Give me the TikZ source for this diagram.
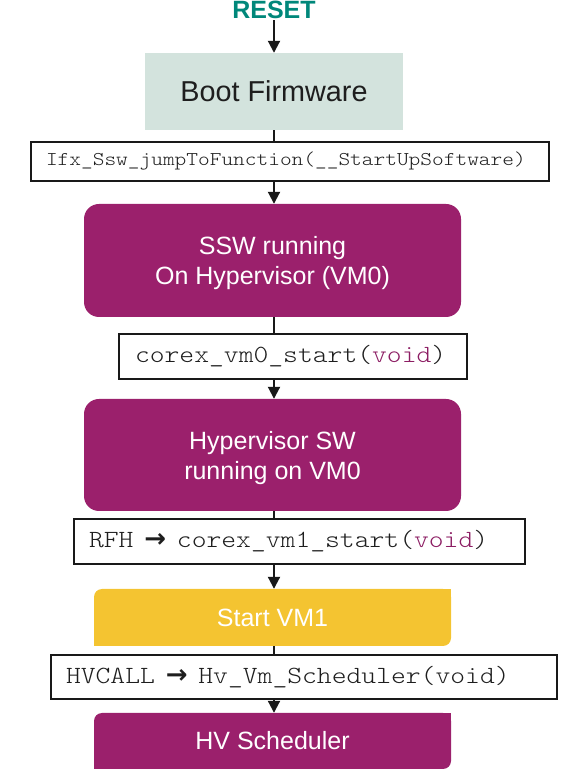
\documentclass[tikz,border=0pt]{standalone}
\usepackage{fontspec}
\setmainfont{Liberation Sans}
\newfontfamily\monof{lmmonolt10-regular.otf}[FakeStretch=1.143]
\newfontfamily\dvsans{DejaVu Sans}
\usetikzlibrary{arrows.meta}
\definecolor{tealc}{HTML}{00877A}
\definecolor{bootc}{HTML}{D3E3DD}
\definecolor{purpc}{HTML}{9B206C}
\definecolor{voidc}{HTML}{8C1D63}
\definecolor{yellc}{HTML}{F4C431}
\definecolor{darkt}{HTML}{1E1E1E}
\newcommand\voidw{{\color{voidc}void}}
\newcommand\rarr{\hbox to 27pt{\hss{\dvsans\bfseries\fontsize{26}{26}\selectfont →}\hss}}
\begin{document}
\begin{tikzpicture}[x=1pt,y=1pt,
  codebox/.style={draw=black!90, line width=1.8pt, fill=white, inner ysep=0pt, inner xsep=15pt,
     align=left, font=\monof\fontsize{24.7}{26}\selectfont, text=darkt},
  roundbox/.style={fill=purpc, rounded corners=15pt, text=white, align=center,
     font=\fontsize{25}{30}\selectfont, minimum width=377pt, inner sep=0pt, text depth=0pt},
  halfbox/.style={rounded corners=8pt, text=white, font=\fontsize{25}{30}\selectfont,
     minimum width=357pt, inner sep=0pt},
  conn/.style={line width=2pt, draw=black!90},
  arr/.style={conn, -{Triangle[length=12pt,width=12pt]}}]
\useasboundingbox (0,0) rectangle (565,780);
\coordinate (axis) at (274,0);
\node[anchor=base, font=\bfseries\fontsize{25}{25}\selectfont, text=tealc, inner sep=1pt] (reset) at (274,761) {RESET};
\node[fill=bootc, minimum width=258pt, minimum height=77pt, inner sep=0pt, text=darkt,
      font=\fontsize{28.8}{30}\selectfont] (boot) at (274,688.5) {Boot Firmware};
\node[codebox, text width=488pt, minimum height=39pt, font=\monof\fontsize{19.5}{21}\selectfont] (ifx) at (290,618.5) {Ifx\_Ssw\_jumpToFunction(\_\_StartUpSoftware)};
\node[roundbox, minimum height=113pt] (ssw) at (272.5,519.5) {SSW running\\On Hypervisor (VM0)};
\node[codebox, inner xsep=16pt, text width=316pt, minimum height=45pt] (c0) at (293,423.5) {corex\_vm0\_start(\voidw)};
\node[roundbox, minimum height=112pt] (hyp) at (272.5,325) {Hypervisor SW\\running on VM0};
\node[codebox, text width=421pt, minimum height=45pt] (rfh) at (299.5,238.5) {RFH \rarr{} corex\_vm1\_start(\voidw)};
\node[halfbox, fill=yellc, minimum height=57pt] (vm1) at (272.5,162.5) {Start VM1};
\fill[yellc] (vm1.north east) rectangle ++(-12pt,-12pt);
\fill[yellc] (vm1.south west) rectangle ++(12pt,12pt);
\node[codebox, text width=476pt, minimum height=44pt] (hvc) at (304,103) {HVCALL \rarr{} Hv\_Vm\_Scheduler(void)};
\node[halfbox, fill=purpc, minimum height=56pt] (hvs) at (272.5,39) {HV Scheduler};
\fill[purpc] (hvs.north east) rectangle ++(-12pt,-12pt);
\fill[purpc] (hvs.south west) rectangle ++(12pt,12pt);
% connectors
\draw[arr] (reset.south) -- (axis |- boot.north);
\draw[conn] (axis |- boot.south) -- (axis |- ifx.north);
\draw[arr] (axis |- ifx.south) -- (axis |- ssw.north);
\draw[conn] (axis |- ssw.south) -- (axis |- c0.north);
\draw[arr] (axis |- c0.south) -- (axis |- hyp.north);
\draw[conn] (axis |- hyp.south) -- (axis |- rfh.north);
\draw[arr] (axis |- rfh.south) -- (axis |- vm1.north);
\draw[conn] (axis |- vm1.south) -- (axis |- hvc.north);
\draw[arr] (axis |- hvc.south) -- (axis |- hvs.north);
\end{tikzpicture}
\end{document}
